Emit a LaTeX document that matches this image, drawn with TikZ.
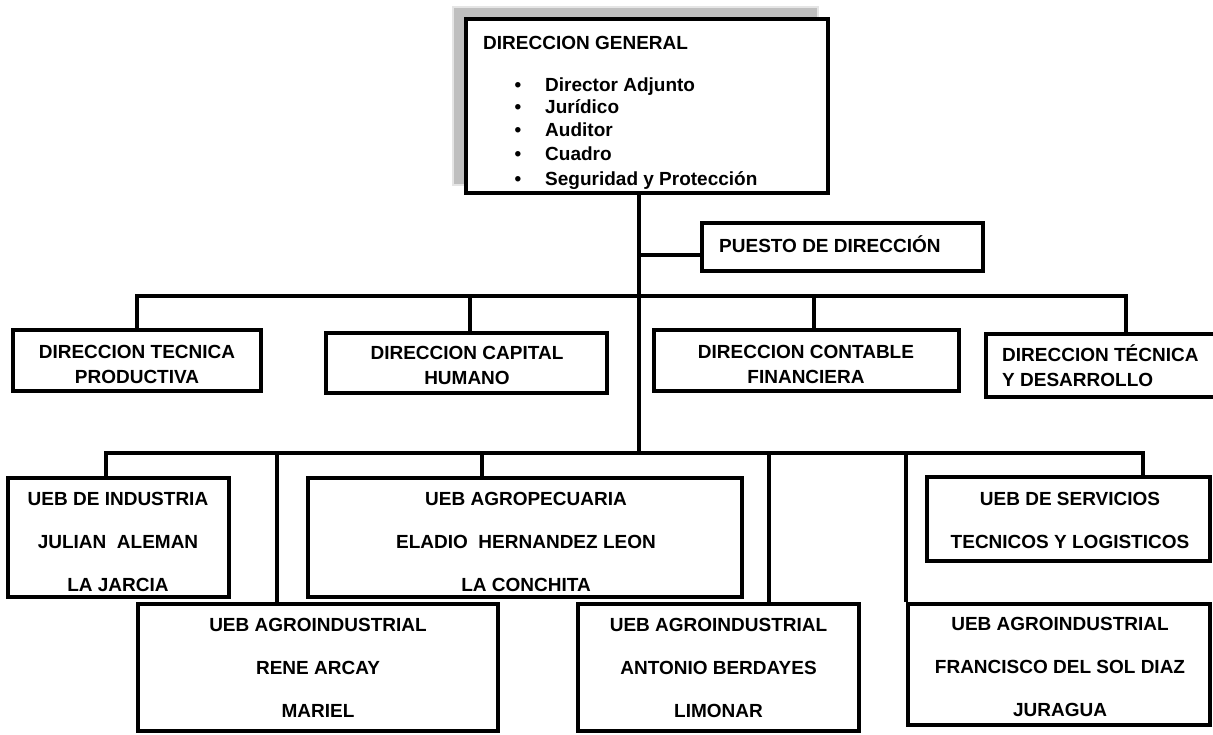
\documentclass[tikz,border=0pt]{standalone}
\usepackage{fontspec}
\setmainfont{Liberation Sans}
\tikzset{
  boxn/.style={draw=black, fill=white, line width=4.5pt, inner sep=0pt},
  conn/.style={draw=black, line width=4pt, line join=miter},
  ttx/.style={font=\fontsize{19}{25}\selectfont\bfseries, align=center, inner sep=0pt},
  utx/.style={font=\fontsize{19}{43}\selectfont\bfseries, align=center, inner sep=0pt},
  ltx/.style={font=\fontsize{19}{23}\selectfont\bfseries, inner sep=0pt, anchor=base west},
  bul/.style={font=\fontsize{19}{23}\selectfont\bfseries, inner sep=0pt, anchor=base},
  shadowbox/.style={fill=black!25, draw=black!10, line width=2pt}
}
\begin{document}
\begin{tikzpicture}[x=1pt,y=-1pt]
\useasboundingbox (0,0) rectangle (1213,734);
\clip (0,0) rectangle (1213,734);

% Top box with shadow
\path[shadowbox] (453,7) rectangle (818,185);
\node[boxn, minimum width=362pt, minimum height=174pt] (dg) at (647,106) {};
\node[ltx] (dgt) at (483,49) {DIRECCION GENERAL};
\node[bul] (bu1) at (518,91) {•};
\node[bul] (bu2) at (518,113) {•};
\node[bul] (bu3) at (518,136) {•};
\node[bul] (bu4) at (518,160) {•};
\node[bul] (bu5) at (518,185) {•};
\node[ltx] (it1) at (545,91) {Director Adjunto};
\node[ltx] (it2) at (545,113) {Jurídico};
\node[ltx] (it3) at (545,136) {Auditor};
\node[ltx] (it4) at (545,160) {Cuadro};
\node[ltx] (it5) at (545,185) {Seguridad y Protección};

% Puesto de direccion
\node[boxn, minimum width=281pt, minimum height=48pt] (pd) at (842.5,247) {};
\node[ltx] (pdt) at (719,252) {PUESTO DE DIRECCIÓN};

% Row 2
\node[boxn, minimum width=248pt, minimum height=61pt] (dtp) at (137,360.5) {};
\node[ttx] (dtpt) at (137,364.5) {DIRECCION TECNICA\\PRODUCTIVA};
\node[boxn, minimum width=281pt, minimum height=60pt] (dch) at (466.5,363) {};
\node[ttx] (dcht) at (467,365) {DIRECCION CAPITAL\\HUMANO};
\node[boxn, minimum width=305pt, minimum height=61pt] (dcf) at (806.5,360.5) {};
\node[ttx] (dcft) at (806,364.5) {DIRECCION CONTABLE\\FINANCIERA};
\node[boxn, minimum width=240pt, minimum height=63pt] (dtd) at (1106,365.5) {};
\node[ttx, align=left, anchor=west] (dtdt) at (1002,365.5) {DIRECCION TÉCNICA\\Y DESARROLLO};

% Row 3
\node[boxn, minimum width=221pt, minimum height=119pt] (ind) at (118.5,537.5) {};
\node[utx] (indt) at (118,541.5) {UEB DE INDUSTRIA\\JULIAN\ \ ALEMAN\\LA JARCIA};
\node[boxn, minimum width=434pt, minimum height=119pt] (agro) at (525,537.5) {};
\node[utx] (agrot) at (526,541.5) {UEB AGROPECUARIA\\ELADIO\ \ HERNANDEZ LEON\\LA CONCHITA};
\node[boxn, minimum width=283pt, minimum height=84pt] (srv) at (1068.5,519) {};
\node[utx] (srvt) at (1070,520.5) {UEB DE SERVICIOS\\TECNICOS Y LOGISTICOS};

% Row 4
\node[boxn, minimum width=360pt, minimum height=127pt] (rene) at (318,667.5) {};
\node[utx] (renet) at (318,667.5) {UEB AGROINDUSTRIAL\\RENE ARCAY\\MARIEL};
\node[boxn, minimum width=281pt, minimum height=127pt] (anto) at (718.5,667.5) {};
\node[utx] (antot) at (718.5,667.5) {UEB AGROINDUSTRIAL\\ANTONIO BERDAYES\\LIMONAR};
\node[boxn, minimum width=302pt, minimum height=121pt] (fr) at (1059,664.5) {};
\node[utx] (frt) at (1060,667) {UEB AGROINDUSTRIAL\\FRANCISCO DEL SOL DIAZ\\JURAGUA};

% Connectors
\coordinate (tA) at (639,255);
\coordinate (tC) at (639,453);
\draw[conn] (tC |- dg.south) -- (tC);
\draw[conn] (tA) -- (tA -| pd.west);

\coordinate (b1b) at (470,296);
\coordinate (b1c) at (814,296);
\coordinate (b1d) at (1126,296);
\draw[conn] (dtp.north) |- (b1d) -- (b1d |- dtd.north);
\draw[conn] (b1b) -- (b1b |- dch.north);
\draw[conn] (b1c) -- (b1c |- dcf.north);

\coordinate (b2a) at (106,453);
\coordinate (b2b) at (277,453);
\coordinate (b2c) at (482,453);
\coordinate (b2d) at (769,453);
\coordinate (b2z) at (1143,453);
\draw[conn] (b2a |- ind.north) -- (b2a) -- (b2z) -- (b2z |- srv.north);
\draw[conn] (b2b) -- (b2b |- rene.north);
\draw[conn] (b2c) -- (b2c |- agro.north);
\draw[conn] (b2d) -- (b2d |- anto.north);
\draw[conn] (fr.north west) -- (fr.north west |- b2a);
\end{tikzpicture}
\end{document}
